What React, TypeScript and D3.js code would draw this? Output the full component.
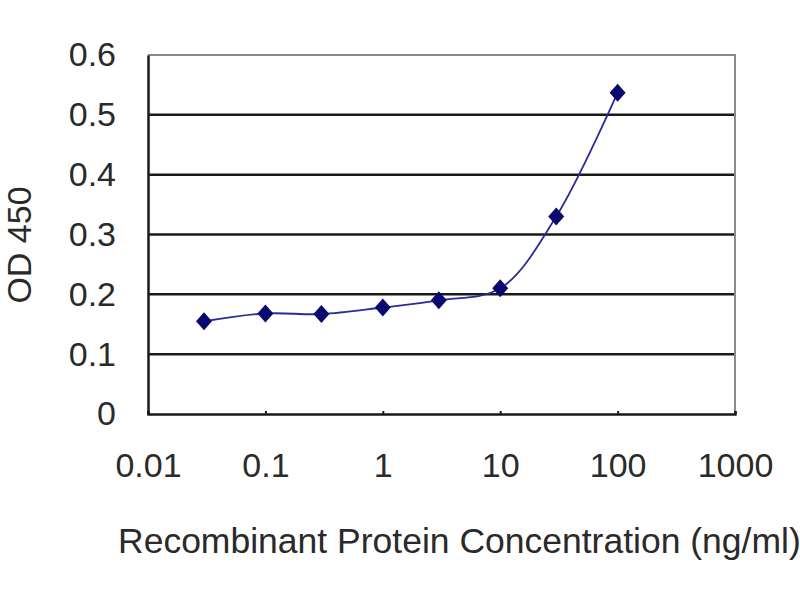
import * as d3 from 'd3'
import { useEffect, useRef } from 'react'

// concentrations (ng/ml) and OD 450 readings
const concentrations = [0.03, 0.1, 0.3, 1, 3, 10, 30, 100]
const odValues = [0.155, 0.168, 0.167, 0.178, 0.19, 0.21, 0.33, 0.537]
const xTicks = [0.01, 0.1, 1, 10, 100, 1000]
const yTicks = [0, 0.1, 0.2, 0.3, 0.4, 0.5, 0.6]

const formatX = (x: number) => (x < 1 ? String(x) : x.toFixed(0))
const formatY = (y: number) => (y === 0 ? '0' : y.toFixed(1))

export default function App() {
  const ref = useRef<HTMLDivElement | null>(null)

  useEffect(() => {
    document.body.style.margin = '0'
    const width = 800
    const height = 600
    const marginTop = 55
    const marginRight = 65
    const marginBottom = 186
    const marginLeft = 148
    const font = 'Liberation Sans, Arial, sans-serif'
    const textColor = '#2a2a2a'

    const x = d3
      .scaleLog()
      .domain([0.01, 1000])
      .range([marginLeft, width - marginRight])

    const y = d3
      .scaleLinear()
      .domain([0, 0.6])
      .range([height - marginBottom, marginTop])

    const svg = d3
      .create('svg')
      .attr('width', width)
      .attr('height', height)
      .attr('viewBox', [0, 0, width, height])
      .style('display', 'block')
      .style('background', '#fff')

    // horizontal gridlines
    svg
      .append('g')
      .selectAll('line')
      .data(yTicks.filter((t) => t > 0 && t < 0.6))
      .join('line')
      .attr('x1', x(0.01))
      .attr('x2', x(1000))
      .attr('y1', (d) => y(d))
      .attr('y2', (d) => y(d))
      .attr('stroke', '#1a1a1a')
      .attr('stroke-width', 2.5)

    // top + right border (gray)
    svg
      .append('path')
      .attr('d', `M${x(0.01)},${y(0.6)}H${x(1000)}V${y(0)}`)
      .attr('fill', 'none')
      .attr('stroke', '#8a8a8a')
      .attr('stroke-width', 2)

    // X axis
    const gx = svg
      .append('g')
      .attr('transform', `translate(0,${y(0)})`)
      .call(d3.axisBottom(x).tickValues(xTicks).tickFormat((d) => formatX(+d)).tickSize(-3).tickPadding(39))
    gx.select('.domain').attr('stroke', '#1a1a1a').attr('stroke-width', 2.5)
    gx.selectAll('.tick line').attr('stroke', '#1a1a1a').attr('stroke-width', 2)
    gx.selectAll('text')
      .attr('font-family', font)
      .attr('font-size', 34)
      .attr('fill', textColor)

    // Y axis
    const gy = svg
      .append('g')
      .attr('transform', `translate(${marginLeft},0)`)
      .call(d3.axisLeft(y).tickValues(yTicks).tickFormat((d) => formatY(+d)).tickSize(0).tickPadding(32))
    gy.select('.domain').attr('stroke', '#1a1a1a').attr('stroke-width', 2.5)
    gy.selectAll('text')
      .attr('font-family', font)
      .attr('font-size', 34)
      .attr('fill', textColor)

    // data line (smoothed)
    const points: [number, number][] = concentrations.map((c, i) => [c, odValues[i]])
    const line = d3
      .line<[number, number]>()
      .x((d) => x(d[0]))
      .y((d) => y(d[1]))
      .curve(d3.curveCatmullRom.alpha(0.5))

    svg
      .append('path')
      .datum(points)
      .attr('d', line)
      .attr('fill', 'none')
      .attr('stroke', '#2a2a9a')
      .attr('stroke-width', 1.8)

    // diamond markers
    svg
      .append('g')
      .selectAll('path')
      .data(points)
      .join('path')
      .attr('transform', (d) => `translate(${x(d[0])},${y(d[1])})`)
      .attr('d', 'M0,-9L8,0L0,9L-8,0Z')
      .attr('fill', '#0a0a6e')

    // axis titles
    svg
      .append('text')
      .attr('x', 118)
      .attr('y', 553)
      .attr('font-family', font)
      .attr('font-size', 35.5)
      .attr('fill', textColor)
      .text('Recombinant Protein Concentration (ng/ml)')

    svg
      .append('text')
      .attr('transform', `translate(31,${245}) rotate(-90)`)
      .attr('text-anchor', 'middle')
      .attr('font-family', font)
      .attr('font-size', 34)
      .attr('fill', textColor)
      .text('OD 450')

    if (ref.current) {
      ref.current.innerHTML = ''
      ref.current.appendChild(svg.node()!)
    }
  }, [])

  return <div ref={ref} style={{ width: 800, height: 600, overflow: 'hidden' }} />
}
